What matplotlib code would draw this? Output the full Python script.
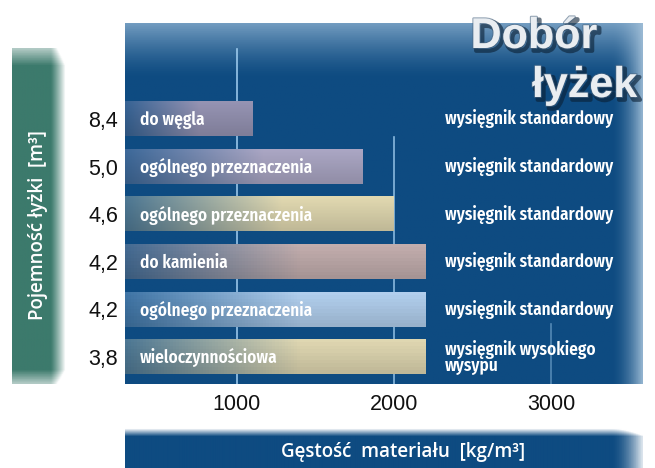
import numpy as np
import matplotlib
matplotlib.use("Agg")
import matplotlib.pyplot as plt
import matplotlib.patheffects as pe
from matplotlib import font_manager

# ---- data ----
capacities = ["8,4", "5,0", "4,6", "4,2", "4,2", "3,8"]
densities = [1100, 1800, 2000, 2200, 2200, 2200]
bucket_types = ["do węgla", "ogólnego przeznaczenia", "ogólnego przeznaczenia",
                "do kamienia", "ogólnego przeznaczenia", "wieloczynnościowa"]
boom_types = ["wysięgnik standardowy", "wysięgnik standardowy", "wysięgnik standardowy",
              "wysięgnik standardowy", "wysięgnik standardowy",
              "wysięgnik wysokiego\nwysypu"]
x_ticks = [1000, 2000, 3000]
x_tick_labels = ["1000", "2000", "3000"]
title_lines = ["Dobór", "łyżek"]
x_label = "Gęstość  materiału  [kg/m³]"
y_label = "Pojemność łyżki  [m³]"

bar_colors = ["#8e8caa", "#a29eba", "#d6cea8", "#b9a5a5", "#a9c5e2", "#d5cda9"]

names = {f.name for f in font_manager.fontManager.ttflist}
narrow = "DejaVu Sans"
for cand in ["Fira Sans Condensed", "PT Sans Narrow", "Open Sans Condensed",
             "Roboto Condensed", "Barlow Condensed", "Liberation Sans Narrow"]:
    if cand in names:
        narrow = cand
        break
narrow_weight = "semibold" if narrow == "Fira Sans Condensed" else "bold"

W, H = 655, 468
fig = plt.figure(figsize=(W / 100, H / 100), dpi=100)
fig.patch.set_facecolor("white")

def fx(px):
    return px / W

def fy(py):
    return 1 - py / H

base = np.array([14, 75, 129]) / 255.0

# ---- main panel ----
L, R, T, B = 125, 643, 23, 384
ax = fig.add_axes([fx(L), fy(B), fx(R - L), (B - T) / H])
x0, x1 = (L - 80) / 0.157, (R - 80) / 0.157
y_top, y_bot = -(119 - T) / 47.6, (B - 119) / 47.6
ax.set_xlim(x0, x1)
ax.set_ylim(y_bot, y_top)

nh, nw = 200, 300
yy = np.linspace(0, 1, nh)[:, None]
xx = np.linspace(0, 1, nw)[None, :]
img = np.ones((nh, nw, 3)) * base
py = T + yy * (B - T)
topw = np.clip(1 - (py - T) / 55.0, 0, 1) ** 1.4
light = np.array([150, 185, 215]) / 255.0
img = img * (1 - topw[..., None] * 0.75) + light * (topw[..., None] * 0.75)
px = L + xx * (R - L)
rw = np.clip((px - 612) / 31.0, 0, 1) ** 1.8
edge = np.array([160, 190, 215]) / 255.0
img = img * (1 - rw[..., None] * 0.9) + edge * (rw[..., None] * 0.9)
ax.imshow(img, extent=(x0, x1, y_bot, y_top), aspect="auto", zorder=0)

# gridlines
grid_spans = [(y_top + 0.55, y_bot), (0.38, y_bot), (4.3, y_bot)]
for xv, (ya, yb), al in zip(x_ticks, grid_spans, [0.9, 0.8, 0.45]):
    ax.plot([xv, xv], [ya, yb], color="#a8d4f5", lw=1.2, alpha=al, zorder=1)

rows = np.arange(len(densities))
bh = 0.72
bars = ax.barh(rows, densities, height=bh, color=bar_colors, zorder=2)
for r, d, c in zip(rows, densities, bar_colors):
    col = np.array(matplotlib.colors.to_rgb(c))
    g = np.linspace(0, 1, 100)[None, :]
    w = np.clip(0.3 + g * 1.2, 0, 1)
    grad = base * (1 - w[..., None]) + col * w[..., None]
    grad = np.repeat(grad, 10, axis=0)
    vshade = np.linspace(1.05, 0.9, 10)[:, None, None]
    grad = np.clip(grad * vshade, 0, 1)
    ax.imshow(grad, extent=(x0, d, r + bh / 2, r - bh / 2), aspect="auto", zorder=3)

label_x = (140 - 80) / 0.157
right_x = (445 - 80) / 0.157
for r, t in zip(rows, bucket_types):
    ax.text(label_x, r + 0.02, t, color="white", fontsize=12.4, fontweight=narrow_weight,
            family=narrow, ha="left", va="center", zorder=5)
for r, t in zip(rows, boom_types):
    ax.text(right_x, r + 0.02, t, color="white", fontsize=12.4, fontweight=narrow_weight,
            family=narrow, ha="left", va="center", linespacing=0.72, zorder=5)

ax.set_yticks(rows, capacities)
ax.set_xticks(x_ticks, x_tick_labels)
ax.tick_params(axis="y", length=0, pad=5, labelsize=15.5, labelcolor="#111111")
ax.tick_params(axis="x", length=0, pad=7, labelsize=15.5, labelcolor="#111111")
for lab in ax.get_yticklabels() + ax.get_xticklabels():
    lab.set_family("Liberation Sans")
for s in ax.spines.values():
    s.set_visible(False)

# ---- title ----
tfx = [pe.SimpleLineShadow(offset=(2, -2), shadow_color="#0a1f33", alpha=0.6, linewidth=3),
       pe.Stroke(linewidth=1.5, foreground="#4a6580", alpha=0.6), pe.Normal()]
fig.text(fx(597), fy(48), title_lines[0], fontsize=31, fontweight="bold",
         family="Liberation Sans", color="#e9edf1", ha="right", va="baseline",
         path_effects=tfx, zorder=10)
fig.text(fx(637), fy(97), title_lines[1], fontsize=31, fontweight="bold",
         family="Liberation Sans", color="#e9edf1", ha="right", va="baseline",
         path_effects=tfx, zorder=10)

# ---- left label panel ----
lL, lR, lT, lB = 12, 66, 48, 384
axl = fig.add_axes([fx(lL), fy(lB), fx(lR - lL), (lB - lT) / H])
green = np.array([60, 122, 108]) / 255.0
nh2, nw2 = 200, 60
yy2 = np.linspace(0, 1, nh2)[:, None]
xx2 = np.linspace(0, 1, nw2)[None, :]
imgl = np.ones((nh2, nw2, 3)) * green
wr = np.clip((xx2 - 0.72) / 0.28, 0, 1) ** 1.2
wt = np.clip(1 - yy2 / 0.05, 0, 1) * 0.6 + np.clip((yy2 - 0.96) / 0.04, 0, 1) * 0.6
wtot = np.clip(wr + wt, 0, 1)
imgl = imgl * (1 - wtot[..., None]) + np.ones(3) * wtot[..., None]
axl.imshow(imgl, extent=(0, 1, 0, 1), aspect="auto")
axl.set_axis_off()
fig.text(fx(38), fy(225), y_label, rotation=90, color="white", fontsize=13.5,
         family="Open Sans", fontweight="semibold", ha="center", va="center")

# ---- bottom label panel ----
bL, bR, bT, bB = 125, 643, 428, 468
axb = fig.add_axes([fx(bL), 0, fx(bR - bL), (bB - bT) / H])
nh3, nw3 = 40, 300
yy3 = np.linspace(0, 1, nh3)[:, None]
xx3 = np.linspace(0, 1, nw3)[None, :]
imgb = np.ones((nh3, nw3, 3)) * base
wtb = np.clip(1 - yy3 / 0.2, 0, 1)
pxb = bL + xx3 * (bR - bL)
wrb = np.clip((pxb - 612) / 31.0, 0, 1) ** 1.8
wb = np.clip(wtb + wrb * 0.85, 0, 1)
imgb = imgb * (1 - wb[..., None]) + np.ones(3) * wb[..., None]
axb.imshow(imgb, extent=(0, 1, 0, 1), aspect="auto")
axb.set_axis_off()
fig.text(fx(403), fy(452), x_label, color="white", fontsize=13.5,
         family="Open Sans", fontweight="semibold", ha="center", va="center")

fig.savefig("out.png", dpi=100, facecolor="white")
